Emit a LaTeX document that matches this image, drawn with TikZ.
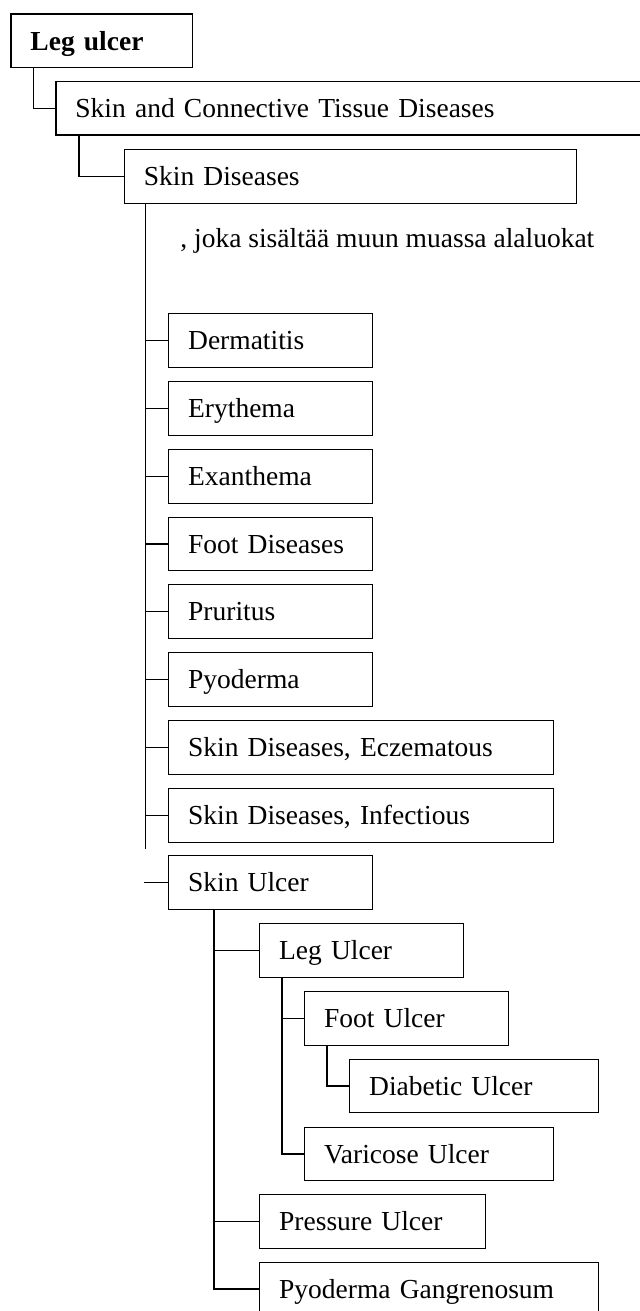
\documentclass[tikz,border=0pt]{standalone}
\usepackage{fontspec}
\setmainfont{Liberation Serif}
\newcommand{\boxfont}{\fontsize{13.75pt}{16pt}\selectfont}
\tikzset{
  bx/.style={draw, line width=0.65pt, rectangle, anchor=north west,
    inner xsep=9.75pt, inner ysep=0pt, minimum height=26.75pt,
    text height=9.55pt, text depth=0pt, align=left, font=\boxfont},
  sw/.style={bx, text width=82.5pt},
  lw/.style={bx, text width=172.85pt},
  link/.style={draw, line width=0.65pt},
}
\begin{document}
\begin{tikzpicture}[x=0.5pt, y=-0.5pt]
\path[use as bounding box] (0,0) rectangle (640,1311);
\clip (0,0) rectangle (640,1311);
\node[bx, text width=71.2pt, font=\boxfont\bfseries] (L0) at (10.3,13.3) {Leg ulcer};
\node[bx, text width=277.85pt] (L1) at (55.3,81) {Skin and Connective Tissue Diseases};
\node[bx, text width=206.4pt] (L2) at (123.7,149) {Skin Diseases};
\node[anchor=base west, inner sep=0pt, font=\boxfont] (note) at (180,247) {, joka sisältää muun muassa alaluokat};
\node[sw] (c1) at (168,313) {Dermatitis};
\node[sw] (c2) at (168,381) {Erythema};
\node[sw] (c3) at (168,449) {Exanthema};
\node[sw] (c4) at (168,516.5) {Foot Diseases};
\node[sw] (c5) at (168,584) {Pruritus};
\node[sw] (c6) at (168,652) {Pyoderma};
\node[lw] (c7) at (168,720) {Skin Diseases, Eczematous};
\node[lw] (c8) at (168,788) {Skin Diseases, Infectious};
\node[sw] (su) at (168,855) {Skin Ulcer};
\node[sw] (lu) at (259,923) {Leg Ulcer};
\node[sw] (fu) at (304,991) {Foot Ulcer};
\node[bx, text width=104.85pt] (du) at (349,1058.5) {Diabetic Ulcer};
\node[bx, text width=104.85pt] (vu) at (304,1126.5) {Varicose Ulcer};
\node[bx, text width=93.5pt] (pu) at (259,1194) {Pressure Ulcer};
\node[bx, text width=149.85pt] (pg) at (259,1261.5) {Pyoderma Gangrenosum};
% connectors
\draw[link] ([xshift=11.5pt]L0.south west) |- (L1.west);
\draw[link] ([xshift=11.85pt]L1.south west) |- (L2.west);
\coordinate (trunk) at (145.7,849);
\draw[link] ([xshift=11pt]L2.south west) -- (trunk);
\foreach \c in {c1,c2,c3,c4,c5,c6,c7,c8}
  \draw[link] (trunk |- \c.west) -- (\c.west);
\draw[link] ([xshift=-1pt]trunk |- su.west) -- (su.west);
\draw[link] ([xshift=23pt]su.south west) |- (lu.west);
\draw[link] ([xshift=23pt]su.south west) |- (pu.west);
\draw[link] ([xshift=23pt]su.south west) |- (pg.west);
\draw[link] ([xshift=11.5pt]lu.south west) |- (fu.west);
\draw[link] ([xshift=11.5pt]lu.south west) |- (vu.west);
\draw[link] ([xshift=11.5pt]fu.south west) |- (du.west);
\end{tikzpicture}
\end{document}
